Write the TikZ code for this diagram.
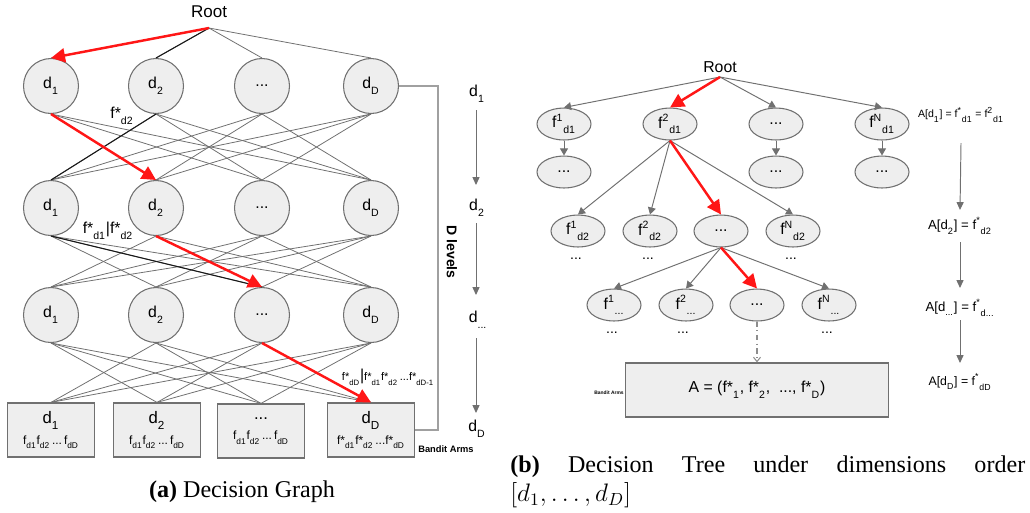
\documentclass[tikz,border=0pt]{standalone}
\usepackage{fontspec}
\setmainfont{Liberation Sans}
\newfontfamily\capfont{Liberation Serif}
\usetikzlibrary{calc,positioning,arrows.meta,shapes.geometric}
\definecolor{dggrey}{RGB}{112,112,112}
\definecolor{dglight}{RGB}{160,160,160}
\definecolor{dgfill}{RGB}{238,238,238}
\definecolor{dgred}{RGB}{255,22,22}
\definecolor{dgdark}{RGB}{25,25,25}
\newcommand{\fs}[1]{\fontsize{#1}{#1}\selectfont}
\newcommand{\lsub}[1]{\raisebox{-0.45ex}{\textsubscript{#1}}}
\newcommand{\tsup}[1]{\textsuperscript{#1}}
\tikzset{
  dcirc/.style={circle,draw=dggrey,fill=dgfill,line width=0.6pt,minimum size=1.1cm,inner sep=0pt,font=\fs{9}},
  armbox/.style={draw=dggrey,fill=dgfill,line width=0.7pt,minimum width=1.74cm,minimum height=1.08cm,inner sep=0pt,align=center,font=\fs{9.5}},
  fell/.style={ellipse,draw=dggrey,fill=dgfill,line width=0.6pt,minimum width=1.08cm,minimum height=0.64cm,inner sep=0pt,font=\fs{9}},
  lnk/.style={draw=dggrey,line width=0.45pt},
  hilnk/.style={draw=dgdark,line width=0.6pt},
  redarr/.style={draw=dgred,line width=1.4pt,-{Triangle[length=8pt,width=8pt]}},
  treearr/.style={draw=dggrey,line width=0.55pt,-{Triangle[length=4pt,width=4.5pt]}},
  lvlarr/.style={draw=dggrey,line width=0.55pt,-{Triangle[length=4.5pt,width=4pt]}},
}

\begin{document}
\begin{tikzpicture}[x=0.02cm,y=-0.02cm]
\useasboundingbox (0,0) rectangle (1030,512);
\node[font=\fs{9.7}] (rootA) at (209,12) {Root};
\coordinate (rA) at (209,28);
\foreach \x/\t [count=\i] in {51/{d\lsub{1}},156/{d\lsub{2}},262/{...},371/{d\lsub{D}}}{
  \node[dcirc] (one\i) at (\x,86) {\t};
  \node[dcirc] (two\i) at (\x,208) {\t};
  \node[dcirc] (three\i) at (\x,315) {\t};}
\node[armbox] (arm1) at (51,430) {d\lsub{1}\\[2.5pt]{\fs{6.8}f\lsub{d1}f\lsub{d2}\,...\,f\lsub{dD}}};
\node[armbox] (arm2) at (157,430) {d\lsub{2}\\[2.5pt]{\fs{6.8}f\lsub{d1}f\lsub{d2}\,...\,f\lsub{dD}}};
\node[armbox] (arm3) at (261,431) {...\\[2pt]{\fs{6.8}f\lsub{d1}f\lsub{d2}\,...\,f\lsub{dD}}};
\node[armbox] (arm4) at (371,430) {d\lsub{D}\\[2.5pt]{\fs{6.8}f*\lsub{d1}f*\lsub{d2}\,...f*\lsub{dD}}};
\foreach \i in {1,...,4}{\draw[lnk] (rA) -- (one\i.north);}
\foreach \i in {1,...,4}{\foreach \j in {1,...,4}{\ifnum\i=\j\relax\else
  \draw[lnk] (one\i.south) -- (two\j.north);
  \draw[lnk] (two\i.south) -- (three\j.north);
  \draw[lnk] (three\i.south) -- (arm\j.north);\fi}}
\draw[hilnk] (rA) -- (one2.north);
\draw[hilnk] (one2.south) -- (two1.north);
\draw[hilnk] (two1.south) -- (three3.north);
\draw[redarr] (rA) -- (one1.north);
\draw[redarr] (one1.south) -- (two2.north);
\draw[redarr] (two2.south) -- (three3.north);
\draw[redarr] (three3.south) -- (arm4.north);
\draw[draw=dglight,line width=0.7pt] (one4.east) -- +(39,0) |- (arm4.east);
\node[font=\fs{9}] (fdA) at (122,116) {f*\lsub{d2}};
\node[font=\fs{9}] (fdB) at (108,231) {f*\lsub{d1}|f*\lsub{d2}};
\node[font=\fs{6.3}] (fdC) at (388,377) {f*\lsub{dD}{\fs{9}|}f*\lsub{d1}f*\lsub{d2}\,...f*\lsub{dD-1}};
\node[font=\bfseries\fs{5.3}] (bandA) at (446,449) {Bandit Arms};
\node[rotate=-90,font=\bfseries\fs{8}] (dlev) at (452,252) {D levels};
\node[font=\fs{9}] (lv1) at (477,94) {d\lsub{1}};
\node[font=\fs{9}] (lv2) at (477,208) {d\lsub{2}};
\node[font=\fs{9}] (lv3) at (478,320) {d\lsub{...}};
\node[font=\fs{9}] (lv4) at (477,429) {d\lsub{D}};
\draw[lvlarr] ($(lv1)+(-1,16)$) -- ($(lv2)+(-1,-23)$);
\draw[lvlarr] ($(lv2)+(-1,15)$) -- ($(lv3)+(-2,-25)$);
\draw[lvlarr] ($(lv3)+(-2,18)$) -- ($(lv4)+(-1,-16)$);
\node[font=\capfont\fs{13.7}] (capA) at (242,492) {\textbf{(a)} Decision Graph};

\node[font=\fs{9}] (rootB) at (720,67) {Root};
\coordinate (rB) at (720,77);
\foreach \x/\t [count=\i] in {564/{f\tsup{1}\lsub{d1}},670/{f\tsup{2}\lsub{d1}},776/{...},882/{f\tsup{N}\lsub{d1}}}{
  \node[fell] (ta\i) at (\x,124) {\t};}
\foreach \x/\t [count=\i] in {578/{f\tsup{1}\lsub{d2}},650/{f\tsup{2}\lsub{d2}},721/{...},793/{f\tsup{N}\lsub{d2}}}{
  \node[fell] (tb\i) at (\x,231) {\t};}
\foreach \x/\t [count=\i] in {614/{f\tsup{1}\lsub{...}},686/{f\tsup{2}\lsub{...}},757/{...},829/{f\tsup{N}\lsub{...}}}{
  \node[fell] (tc\i) at (\x,305) {\t};}
\foreach \i/\x in {1/564,3/776,4/882}{
  \node[fell] (sub\i) at (\x,172) {...};
  \draw[treearr] (ta\i.south) -- (sub\i.north);}
\foreach \i/\x in {1/576,2/648,4/791}{\node[font=\fs{8}] (db\i) at (\x,259) {...};}
\foreach \i/\x in {1/612,2/683,4/827}{\node[font=\fs{8}] (dc\i) at (\x,333) {...};}
\foreach \i in {1,3,4}{\draw[treearr] (rB) -- (ta\i.north);}
\foreach \i in {1,2,4}{
  \draw[treearr] (ta2.south) -- (tb\i.north);
  \draw[treearr] (tb3.south) -- (tc\i.north);}
\draw[redarr] (rB) -- (ta2.north);
\draw[redarr] (ta2.south) -- (tb3.north);
\draw[redarr] (tb3.south) -- (tc3.north);
\node[draw=dggrey,fill=dgfill,line width=0.7pt,minimum width=5.26cm,minimum height=1.08cm,font=\fs{9}] (armsB) at (757,390) {A = (f*\lsub{1}, f*\lsub{2},~ ..., f*\lsub{D})};
\draw[draw=dggrey!80,line width=0.6pt,dash dot,-{Straight Barb[length=2.5pt,width=4pt]}] (tc3.south) -- (armsB.north);
\node[font=\bfseries\fs{2.8}] (bandB) at (609,393) {Bandit Arms};
\node[font=\fs{6}] (ad1) at (961,115) {A[d\lsub{1}] = f\tsup{*}\lsub{d1} = f\tsup{2}\lsub{d1}};
\node[font=\fs{7.5}] (ad2) at (960,226) {A[d\lsub{2}] = f\tsup{*}\lsub{d2}};
\node[font=\fs{7.5}] (ad3) at (960,308) {A[d\lsub{...}] = f\tsup{*}\lsub{d...}};
\node[font=\fs{7}] (ad4) at (960,382) {A[d\lsub{D}] = f\tsup{*}\lsub{dD}};
\draw[lvlarr] ($(ad1)+(0,28)$) -- ($(ad2)+(0,-16)$);
\draw[lvlarr] ($(ad2)+(0,16)$) -- ($(ad3)+(0,-20)$);
\draw[lvlarr] ($(ad3)+(0,12)$) -- ($(ad4)+(0,-19)$);
\node[anchor=west,inner sep=0pt,font=\capfont\fs{13.7}] (capB) at (510,467) {\makebox[10.3cm][s]{\textbf{(b)} Decision Tree under dimensions order}};
\node[anchor=west,inner sep=0pt,font=\capfont\fs{13.7}] (capC) at (510,495) {$[d_1,\ldots,d_D]$};
\end{tikzpicture}
\end{document}
